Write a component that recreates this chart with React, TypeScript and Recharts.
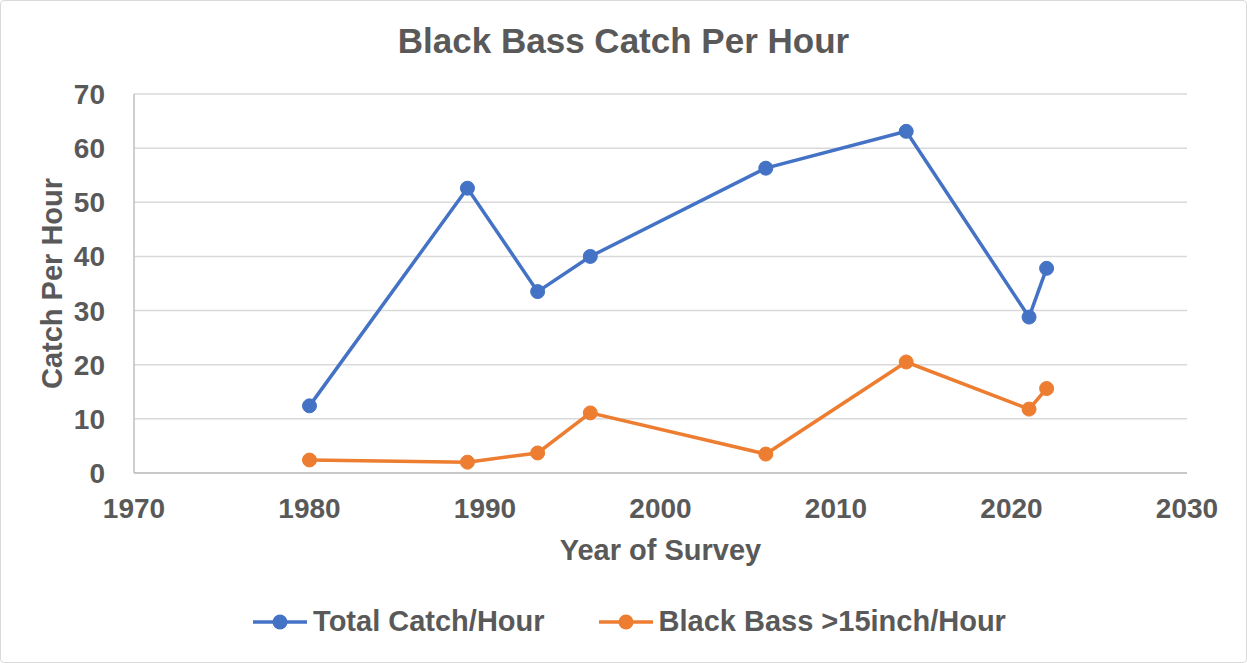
import React from 'react';
import { LineChart, Line, XAxis, YAxis, CartesianGrid, Legend } from 'recharts';

const years = [1980, 1989, 1993, 1996, 2006, 2014, 2021, 2022];
const totalCatch = [12.4, 52.6, 33.5, 40.0, 56.3, 63.1, 28.8, 37.8];
const bassOver15 = [2.4, 2.0, 3.7, 11.1, 3.5, 20.5, 11.8, 15.6];
const xTicks = [1970, 1980, 1990, 2000, 2010, 2020, 2030];
const yTicks = [0, 10, 20, 30, 40, 50, 60, 70];
const seriesNames = ['Total Catch/Hour', 'Black Bass >15inch/Hour'];

const data = years.map((year, i) => ({ year, total: totalCatch[i], bass: bassOver15[i] }));

const FONT = '"Liberation Sans", Arial, sans-serif';
const TEXT = '#595959';
const BLUE = '#4472C4';
const ORANGE = '#ED7D31';

const YLabel = ({ viewBox }: any) => {
    const x = viewBox.x + 52;
    const y = viewBox.y + viewBox.height / 2;
    return (
        <text x={x} y={y} transform={`rotate(-90, ${x}, ${y})`} textAnchor="middle" dominantBaseline="central"
            fill={TEXT} fontSize={29} fontWeight="bold" fontFamily={FONT}>
            Catch Per Hour
        </text>
    );
};

const XLabel = ({ viewBox }: any) => (
    <text x={viewBox.x + viewBox.width / 2} y={viewBox.y + 87} textAnchor="middle"
        fill={TEXT} fontSize={29} fontWeight="bold" fontFamily={FONT}>
        Year of Survey
    </text>
);

const LegendContent = ({ payload }: any) => {
    const items = [...(payload || [])].sort((a: any, b: any) => seriesNames.indexOf(a.value) - seriesNames.indexOf(b.value));
    return (
        <div style={{ display: 'flex', justifyContent: 'center', alignItems: 'center', gap: 54, paddingLeft: 12 }}>
            {items.map((entry: any) => (
                <div key={entry.value} style={{ display: 'flex', alignItems: 'center', gap: 6 }}>
                    <svg width={54} height={20}>
                        <line x1={0} y1={10} x2={54} y2={10} stroke={entry.color} strokeWidth={3.5} />
                        <circle cx={27} cy={10} r={7.5} fill={entry.color} />
                    </svg>
                    <span style={{ color: TEXT, fontSize: 29, fontWeight: 'bold', fontFamily: FONT }}>{entry.value}</span>
                </div>
            ))}
        </div>
    );
};

const App: React.FC = () => (
    <div style={{ position: 'absolute', left: 0, top: 0, width: 1247, height: 663, background: '#fff' }}>
        <div style={{
            position: 'absolute', left: 0, top: 0, width: 1245, height: 661,
            border: '1px solid #d9d9d9', borderRadius: 4,
        }} />
        <div style={{
            position: 'absolute', left: 0, top: 21, width: 1247, textAlign: 'center',
            color: TEXT, fontSize: 35, fontWeight: 'bold', fontFamily: FONT,
        }}>
            Black Bass Catch Per Hour
        </div>
        <LineChart width={1247} height={663} data={data}
            margin={{ top: 94, right: 60, bottom: 70, left: 0 }}
            style={{ position: 'absolute', left: 0, top: 0 }}>
            <CartesianGrid vertical={false} stroke="#d9d9d9" strokeWidth={1.5} />
            <XAxis dataKey="year" type="number" domain={[1970, 2030]} ticks={xTicks} height={80}
                axisLine={{ stroke: '#bfbfbf', strokeWidth: 1.5 }} tickLine={false} tickSize={0} tickMargin={25}
                tick={{ fill: TEXT, fontSize: 28, fontWeight: 'bold', fontFamily: FONT }}
                label={<XLabel />} />
            <YAxis type="number" domain={[0, 70]} ticks={yTicks} width={134} interval={0}
                axisLine={{ stroke: '#bfbfbf', strokeWidth: 1.5 }} tickLine={false} tickSize={0} tickMargin={29}
                tick={{ fill: TEXT, fontSize: 28, fontWeight: 'bold', fontFamily: FONT }}
                label={<YLabel />} />
            <Legend content={<LegendContent />}
                wrapperStyle={{ position: 'absolute', left: 0, top: 605, width: 1247, height: 40 }} />
            <Line dataKey="total" name={seriesNames[0]} stroke={BLUE} strokeWidth={3.5}
                dot={{ r: 7, fill: BLUE, stroke: BLUE, strokeWidth: 1 }} activeDot={false} isAnimationActive={false} />
            <Line dataKey="bass" name={seriesNames[1]} stroke={ORANGE} strokeWidth={3.5}
                dot={{ r: 7, fill: ORANGE, stroke: ORANGE, strokeWidth: 1 }} activeDot={false} isAnimationActive={false} />
        </LineChart>
    </div>
);

export default App;
